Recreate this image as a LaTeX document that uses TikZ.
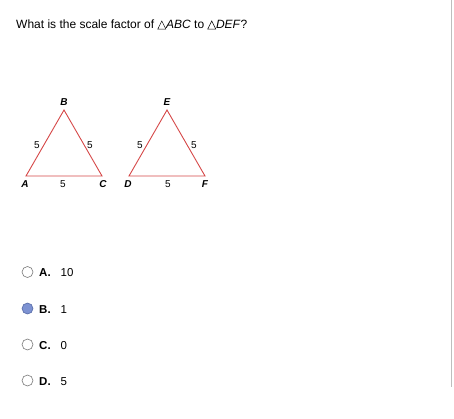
\documentclass[tikz,border=0pt]{standalone}
\usepackage{fontspec}
\setmainfont{Liberation Sans}
\definecolor{trired}{RGB}{214,72,72}
\definecolor{radiogray}{RGB}{120,120,120}
\definecolor{selfill}{RGB}{125,146,210}
\definecolor{selborder}{RGB}{85,105,165}
\definecolor{edgegray}{RGB}{190,190,190}
\newcommand{\smalltri}{\tikz[baseline=0pt]\draw[line width=0.5pt] (0,-1pt)--(8pt,-1pt)--(4pt,7pt)--cycle;}
\begin{document}
\begin{tikzpicture}[x=1pt,y=-1pt,
  tri/.style={draw=trired,line width=0.9pt,line join=miter},
  vlabel/.style={font=\fontsize{10}{12}\selectfont\bfseries\itshape,inner sep=0pt},
  slabel/.style={font=\fontsize{10}{12}\selectfont,inner sep=0pt},
  radio/.style={circle,draw=radiogray,fill=white,minimum size=11pt,inner sep=0pt,line width=0.6pt},
  radiosel/.style={circle,draw=selborder,fill=selfill,minimum size=11pt,inner sep=0pt,line width=0.6pt},
  opt/.style={font=\fontsize{11.5}{14}\selectfont,anchor=base west,inner sep=0pt},
  title/.style={font=\fontsize{12}{15}\selectfont,anchor=base west,inner sep=0pt}]
\useasboundingbox (0,0) rectangle (454,418);
\fill[white] (0,0) rectangle (454,418);
\draw[edgegray,line width=0.8pt] (451.5,0) -- (451.5,387);

\node[title] (q) at (16,28) {What is the scale factor of \smalltri\textit{ABC} to \smalltri\textit{DEF}?};

% triangle ABC
\coordinate (A) at (26,176);
\coordinate (B) at (64,110);
\coordinate (C) at (102,176);
\draw[tri] (A) -- (B) -- (C) -- cycle;
\node[vlabel] (la) at (25,184.5) {A};
\node[vlabel] (lb) at (64,102.5) {B};
\node[vlabel] (lc) at (103,184.5) {C};
\node[slabel] (sab) at (37,145) {5};
\node[slabel] (sbc) at (90,145) {5};
\node[slabel] (sac) at (63,184.5) {5};

% triangle DEF
\coordinate (D) at (129,176);
\coordinate (E) at (167,110);
\coordinate (F) at (205,176);
\draw[tri] (D) -- (E) -- (F) -- cycle;
\node[vlabel] (ld) at (128,184.5) {D};
\node[vlabel] (le) at (167,102.5) {E};
\node[vlabel] (lf) at (205,184.5) {F};
\node[slabel] (sde) at (140,145) {5};
\node[slabel] (sef) at (194,145) {5};
\node[slabel] (sdf) at (168,184.5) {5};

% options
\node[radio] (ra) at (27.5,272) {};
\node[opt] (ta) at (39,276.5) {\textbf{A.}\hspace{10pt}10};
\node[radiosel] (rb) at (27.5,308.5) {};
\node[opt] (tb) at (39,313) {\textbf{B.}\hspace{10pt}1};
\node[radio] (rc) at (27.5,344.5) {};
\node[opt] (tc) at (39,349) {\textbf{C.}\hspace{10pt}0};
\node[radio] (rd) at (27.5,380.5) {};
\node[opt] (td) at (39,385) {\textbf{D.}\hspace{10pt}5};
\end{tikzpicture}
\end{document}
